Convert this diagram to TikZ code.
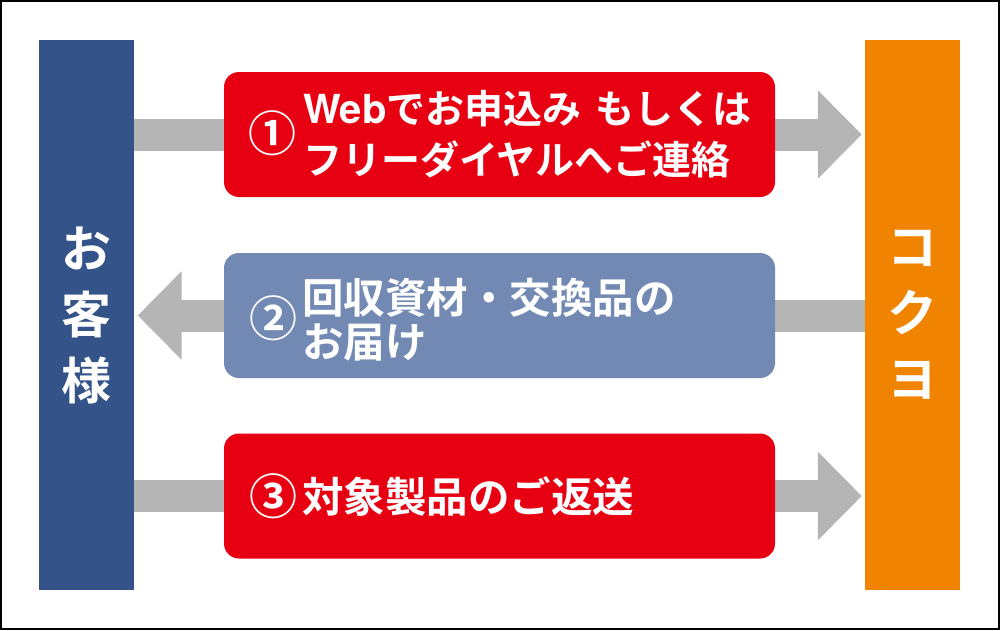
\documentclass[tikz,border=0pt]{standalone}
\usepackage{fontspec}
\setmainfont{Noto Sans CJK JP}[BoldFont={Noto Sans CJK JP Bold}]
\newfontfamily\latinfont{TeX Gyre Heros}
\usetikzlibrary{arrows.meta,backgrounds}
\definecolor{kblue}{HTML}{345388}
\definecolor{kred}{HTML}{E60012}
\definecolor{korange}{HTML}{F08300}
\definecolor{kbox}{HTML}{7189B3}
\definecolor{kgray}{HTML}{B5B5B5}
\begin{document}
\begin{tikzpicture}[x=1pt,y=-1pt,
  bar/.style={inner sep=0pt, minimum width=95pt, minimum height=550pt, text=white, align=center,
    font=\bfseries\fontsize{50}{66}\selectfont},
  stepbox/.style={rounded corners=15pt, inner sep=0pt, minimum width=551pt, minimum height=125pt},
  txt/.style={inner sep=0pt, text=white, align=left, anchor=west},
  num/.style={inner sep=0pt, text=white, font=\bfseries\fontsize{48}{48}\selectfont},
  garrow/.style={draw=kgray, line width=32pt, -{Triangle[length=44pt,width=86pt]}}
]
\useasboundingbox (0,0) rectangle (1000,630);
\draw[black, line width=2pt] (1,1) rectangle (999,629);

\node[bar, fill=kblue] (kunde) at (86,315) {お\\客\\様};
\node[bar, fill=korange] (kokuyo) at (912.5,315) {コ\\ク\\ヨ};

\node[stepbox, fill=kred] (box1) at (499.5,134.5) {};
\node[stepbox, fill=kbox] (box2) at (499.5,315.5) {};
\node[stepbox, fill=kred] (box3) at (499.5,496) {};

\begin{scope}[on background layer]
\draw[garrow, shorten >=3pt] (kunde.east |- box1.center) -- (kokuyo.west |- box1.center);
\draw[garrow, shorten >=4pt] (kokuyo.west |- box2.center) -- (kunde.east |- box2.center);
\draw[garrow, shorten >=3pt] (kunde.east |- box3.center) -- (kokuyo.west |- box3.center);
\end{scope}

\node[num] (n1) at ([xshift=49pt,yshift=1pt]box1.west) {①};
\node[txt, font=\bfseries\fontsize{39}{51}\selectfont] (t1) at ([xshift=79pt]box1.west)
  {{\latinfont\bfseries\fontsize{40}{51}\selectfont Web}でお申込み\hspace{14pt}もしくは\\フリーダイヤルへご連絡};
\node[num] (n2) at ([xshift=50pt,yshift=-3pt]box2.west) {②};
\node[txt, font=\bfseries\fontsize{41.5}{44}\selectfont] (t2) at ([xshift=78pt,yshift=-4pt]box2.west)
  {回収資材・交換品の\\お届け};
\node[num] (n3) at ([xshift=50pt]box3.west) {③};
\node[txt, font=\bfseries\fontsize{41.5}{44}\selectfont] (t3) at ([xshift=78pt]box3.west)
  {対象製品のご返送};
\end{tikzpicture}
\end{document}
